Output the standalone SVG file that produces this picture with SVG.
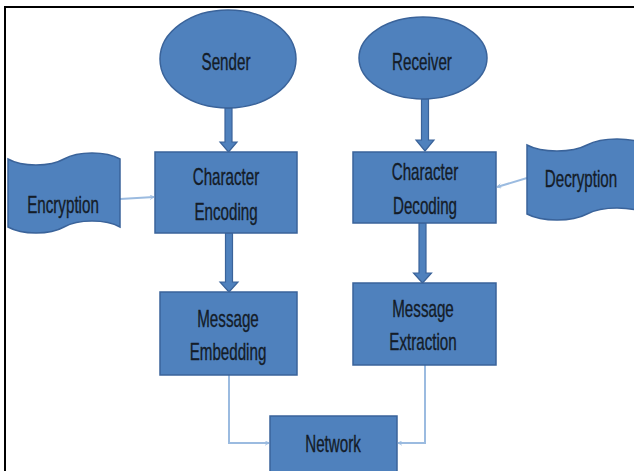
<svg xmlns="http://www.w3.org/2000/svg" width="634" height="471" viewBox="0 0 634 471">
  <defs>
    <style>
      .shape { fill: #4f81bd; stroke: #3a639a; stroke-width: 1.5; }
      .block { fill: #4f81bd; stroke: #3a639a; stroke-width: 1.2; }
      .label { font-family: "Liberation Sans", Arial, sans-serif; font-size: 23px; fill: #141c28; stroke: #141c28; stroke-width: 0.35; text-anchor: middle; }
      .thin { fill: none; stroke: #9bbbe0; stroke-width: 2; }
    </style>
    <marker id="open" viewBox="0 0 10 10" refX="9" refY="5" markerWidth="5" markerHeight="5" orient="auto" markerUnits="userSpaceOnUse">
      <polyline points="1,0.5 9,5 1,9.5" fill="none" stroke="#9bbbe0" stroke-width="1.6"/>
    </marker>
  </defs>

  <rect width="634" height="471" fill="#ffffff"/>
  <!-- outer frame -->
  <rect x="5" y="7" width="660" height="500" fill="none" stroke="#000000" stroke-width="2"/>

  <!-- connectors -->
  <g id="connectors">
    <!-- block arrows -->
    <path class="block" d="M225,108 L232,108 L232,142 L237,142 L228.5,152 L220,142 L225,142 Z"/>
    <path class="block" d="M421.5,99 L428.5,99 L428.5,140 L434,140 L425,151 L416,140 L421.5,140 Z"/>
    <path class="block" d="M225.5,233 L232.5,233 L232.5,282 L238,282 L229,292 L220,282 L225.5,282 Z"/>
    <path class="block" d="M419,223 L426,223 L426,273 L431.5,273 L422.5,283 L413.5,273 L419,273 Z"/>
    <!-- thin arrows -->
    <path class="thin" d="M120,199 L154,197" marker-end="url(#open)"/>
    <path class="thin" d="M527,178 L497,187" marker-end="url(#open)"/>
    <path class="thin" d="M229,375 L229,443 L269,443" marker-end="url(#open)"/>
    <path class="thin" d="M425,365 L425,443 L398,443" marker-end="url(#open)"/>
  </g>

  <g id="sender">
    <ellipse class="shape" cx="228" cy="59" rx="68" ry="49"/>
    <text class="label" transform="translate(226,70) scale(0.66,1)">Sender</text>
  </g>

  <g id="receiver">
    <ellipse class="shape" cx="423" cy="58" rx="64" ry="41"/>
    <text class="label" transform="translate(422,70) scale(0.66,1)">Receiver</text>
  </g>

  <g id="encryption">
    <path class="shape" d="M8,159 C22,167 50,167 64,159 C78,151 106,151 120,159 L120,227 C106,219 78,219 64,227 C50,235 22,235 8,227 Z"/>
    <text class="label" transform="translate(63,213) scale(0.66,1)">Encryption</text>
  </g>

  <g id="decryption">
    <path class="shape" d="M527,145 C542,153 572,153 587,145 C602,137 632,137 647,145 L647,214 C632,206 602,206 587,214 C572,222 542,222 527,214 Z"/>
    <text class="label" transform="translate(581,187) scale(0.66,1)">Decryption</text>
  </g>

  <g id="character-encoding">
    <rect class="shape" x="155" y="152" width="142" height="81"/>
    <text class="label" transform="translate(226,185) scale(0.66,1)">Character</text>
    <text class="label" transform="translate(226,220) scale(0.66,1)">Encoding</text>
  </g>

  <g id="character-decoding">
    <rect class="shape" x="353" y="152" width="143" height="71"/>
    <text class="label" transform="translate(425,180) scale(0.66,1)">Character</text>
    <text class="label" transform="translate(425,214) scale(0.66,1)">Decoding</text>
  </g>

  <g id="message-embedding">
    <rect class="shape" x="160" y="292" width="137" height="83"/>
    <text class="label" transform="translate(228,327) scale(0.66,1)">Message</text>
    <text class="label" transform="translate(228,360) scale(0.66,1)">Embedding</text>
  </g>

  <g id="message-extraction">
    <rect class="shape" x="353" y="283" width="143" height="82"/>
    <text class="label" transform="translate(423,317) scale(0.66,1)">Message</text>
    <text class="label" transform="translate(423,350) scale(0.66,1)">Extraction</text>
  </g>

  <g id="network">
    <rect class="shape" x="270" y="416" width="127" height="60"/>
    <text class="label" transform="translate(333,452) scale(0.66,1)">Network</text>
  </g>
</svg>
